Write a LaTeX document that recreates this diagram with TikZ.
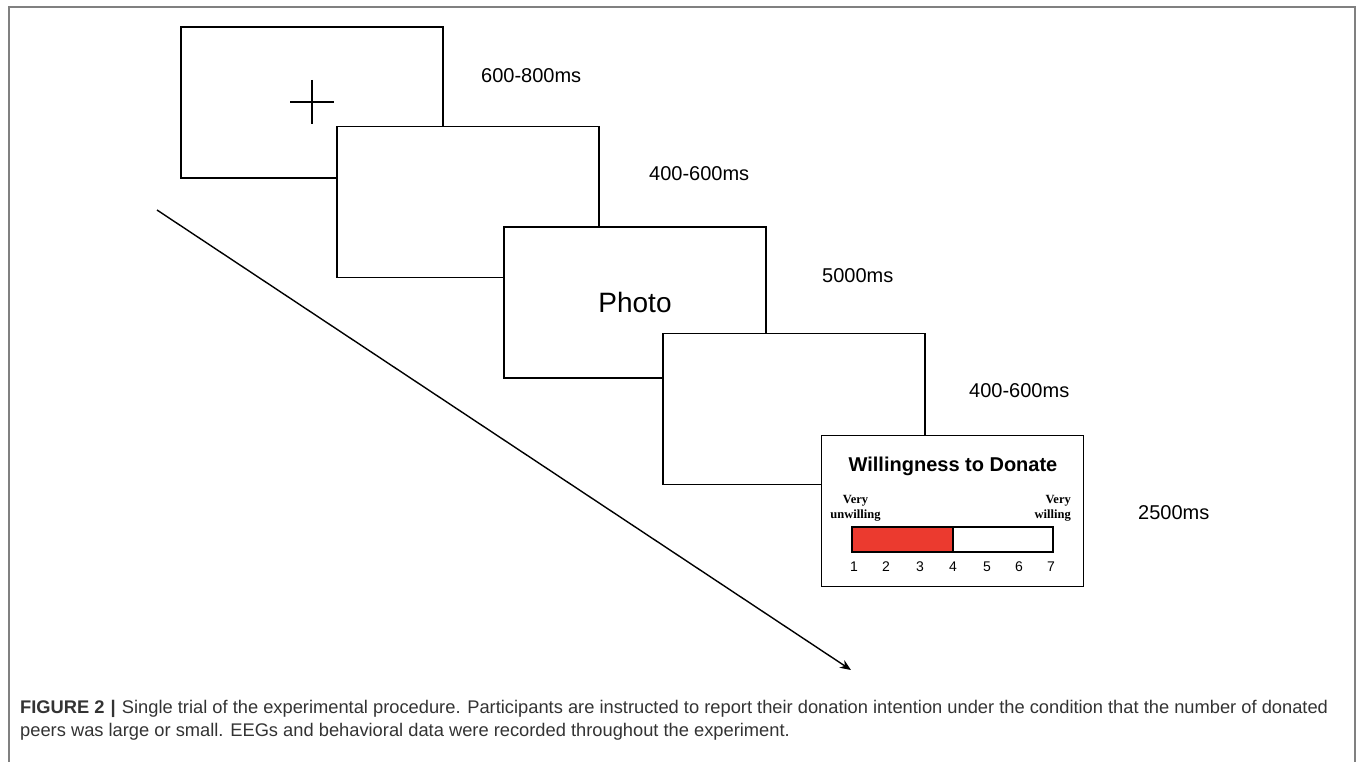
\documentclass[tikz,border=0pt]{standalone}
\usepackage{fontspec}
\setmainfont{Liberation Sans}
\newfontfamily\serifb{Liberation Serif}
\newfontfamily\capfont{Liberation Sans}
\usetikzlibrary{arrows.meta}
\definecolor{barred}{HTML}{EB3A2F}
\definecolor{framegray}{HTML}{808080}
\tikzset{
  screen/.style={draw=black, fill=white, line width=1.4pt, minimum width=262pt, minimum height=151pt, inner sep=0pt, rectangle},
  durlabel/.style={anchor=west, inner sep=0pt, font=\fontsize{20}{23}\selectfont},
  numlabel/.style={inner sep=0pt, font=\fontsize{14}{16}\selectfont},
  endlabel/.style={inner sep=0pt, align=center, font=\serifb\bfseries\fontsize{12.5}{15}\selectfont},
  captxt/.style={anchor=base west, inner sep=0pt, text=black!80, font=\capfont\fontsize{18.3}{21}\selectfont},
}
\begin{document}
\begin{tikzpicture}[x=1pt,y=-1pt]
\useasboundingbox (0,0) rectangle (1358,762);
% outer frame (open at bottom)
\draw[framegray, line width=1.3pt] (9,762) -- (9,7) -- (1355,7) -- (1355,762);
% screens
\node[screen] (s1) at (312,102.5) {};
\draw[line width=1.3pt] (290,102) -- (334,102) (312,80) -- (312,124);
\node[screen] (s2) at (468,202) {};
\node[screen] (s3) at (635,302.5) {};
\node[font=\fontsize{28}{31}\selectfont, inner sep=0pt] (photo) at (635,302) {Photo};
\node[screen] (s4) at (794,409) {};
\node[screen] (s5) at (952.5,511) {};
% rating scale
\node[inner sep=0pt, font=\bfseries\fontsize{20}{23}\selectfont] (title) at (953,466) {Willingness to Donate};
\node[endlabel] (left) at (855.5,508) {Very\\unwilling};
\node[endlabel, align=right, anchor=east] (right) at (1071,508) {Very\\willing};
\draw[fill=barred, line width=1.2pt] (852,527) rectangle (953,552);
\draw[fill=white, line width=1.2pt] (953,527) rectangle (1053,552);
\node[numlabel] (n1) at (854,567) {1};
\node[numlabel] (n2) at (886,567) {2};
\node[numlabel] (n3) at (920,567) {3};
\node[numlabel] (n4) at (953,567) {4};
\node[numlabel] (n5) at (987,567) {5};
\node[numlabel] (n6) at (1019,567) {6};
\node[numlabel] (n7) at (1051,567) {7};
% durations
\node[durlabel] (d1) at (481,75.5) {600-800ms};
\node[durlabel] (d2) at (649,174) {400-600ms};
\node[durlabel] (d3) at (822,275.5) {5000ms};
\node[durlabel] (d4) at (969,391) {400-600ms};
\node[durlabel] (d5) at (1138,513) {2500ms};
% time arrow
\coordinate (tstart) at (157,210);
\coordinate (tend) at (851,670);
\draw[line width=1.4pt, -{Stealth[length=11pt,width=9pt]}] (tstart) -- (tend);
% caption
\node[captxt] (cap1) at (20,713) {{\bfseries FIGURE 2\,\,|\,\,}Single trial of the experimental procedure. Participants are instructed to report their donation intention under the condition that the number of donated};
\node[captxt] (cap2) at (20,736) {peers was large or small. EEGs and behavioral data were recorded throughout the experiment.};
\end{tikzpicture}
\end{document}
